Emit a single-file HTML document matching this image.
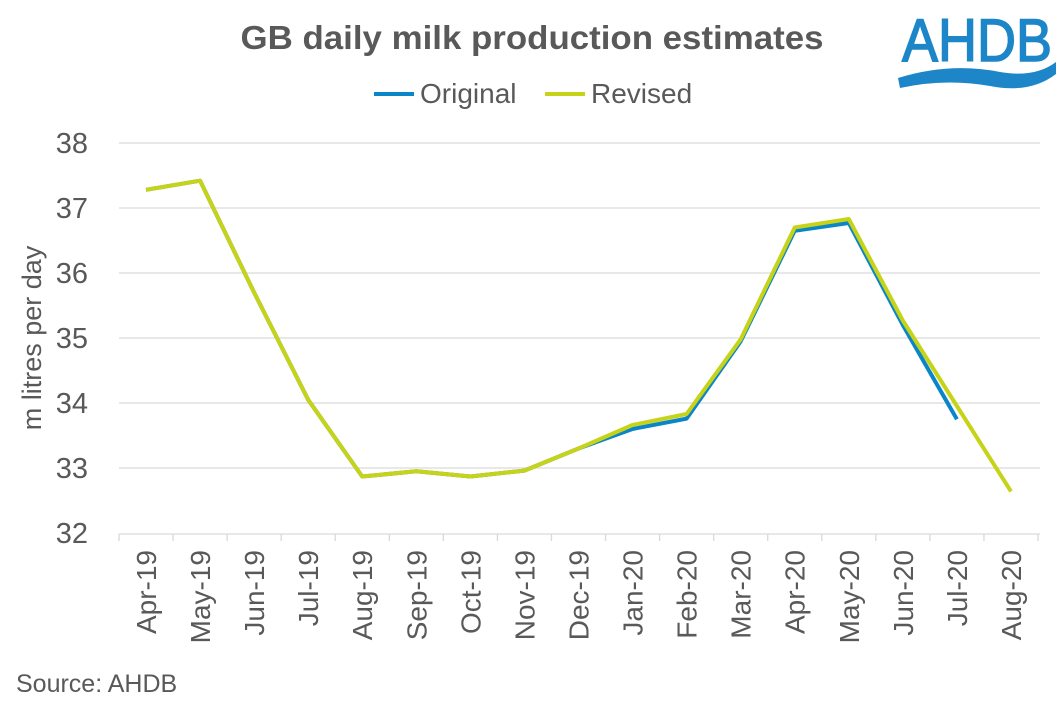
<!DOCTYPE html>
<html><head><meta charset="utf-8"><style>
body{margin:0;background:#fff;}
svg text{font-family:"Liberation Sans",Arial,sans-serif;}
</style></head><body>
<svg width="1063" height="709" xmlns="http://www.w3.org/2000/svg">
<rect width="1063" height="709" fill="#fff"/>
<text x="532" y="49" text-anchor="middle" font-size="33" font-weight="bold" fill="#595959" textLength="583" lengthAdjust="spacingAndGlyphs">GB daily milk production estimates</text>
<line x1="374" y1="94" x2="414" y2="94" stroke="#0a86c8" stroke-width="4"/>
<text x="420" y="103" font-size="28" fill="#595959">Original</text>
<line x1="545" y1="94" x2="585" y2="94" stroke="#c6d318" stroke-width="4"/>
<text x="591" y="103" font-size="28" fill="#595959">Revised</text>
<text x="977" y="61" text-anchor="middle" font-size="60" fill="#1d86c8" stroke="#1d86c8" stroke-width="1.5" textLength="150" lengthAdjust="spacingAndGlyphs">AHDB</text>
<path d="M898 78 Q950 62 1000 72 Q1035 78 1056 62 L1056 74 Q1030 94 990 86 Q945 78 900 88 Z" fill="#1d86c8"/>
<g stroke="#d9d9d9" stroke-width="1.3">
<line x1="119" y1="143" x2="1040" y2="143"/><line x1="119" y1="208" x2="1040" y2="208"/>
<line x1="119" y1="273" x2="1040" y2="273"/><line x1="119" y1="338" x2="1040" y2="338"/>
<line x1="119" y1="403" x2="1040" y2="403"/><line x1="119" y1="468" x2="1040" y2="468"/>
<line x1="119" y1="534" x2="1040" y2="534"/>
</g>
<g stroke="#d9d9d9" stroke-width="1.3" id="ticks"></g>
<g font-size="29" fill="#595959" text-anchor="end">
<text x="88" y="153">38</text><text x="88" y="218">37</text><text x="88" y="283">36</text>
<text x="88" y="348">35</text><text x="88" y="413">34</text><text x="88" y="478">33</text><text x="88" y="543">32</text>
</g>
<text transform="translate(41,338) rotate(-90)" text-anchor="middle" font-size="27" fill="#595959">m litres per day</text>
<g id="xl" font-size="28" fill="#595959" text-anchor="end"></g>
<text x="16" y="692" font-size="25" fill="#595959">Source: AHDB</text>
<polyline fill="none" stroke="#0a86c8" stroke-width="4" stroke-linejoin="round" points="146,189.8 200.1,180.7 254.1,292.5 308.2,399.8 362.2,476.5 416.3,471.3 470.4,476.5 524.4,470.6 578.5,448.5 632.5,429 686.6,418.6 740.7,341.3 794.7,230.8 848.8,223 902.8,325 956.9,419.3"/>
<polyline fill="none" stroke="#c6d318" stroke-width="4" stroke-linejoin="round" points="146,189.8 200.1,180.7 254.1,292.5 308.2,399.8 362.2,476.5 416.3,471.3 470.4,476.5 524.4,470.6 578.5,448.5 632.5,425 686.6,414 740.7,339.3 794.7,227.5 848.8,219 902.8,320.5 956.9,406 1011,491.4"/>
<script>
var labs=["Apr-19","May-19","Jun-19","Jul-19","Aug-19","Sep-19","Oct-19","Nov-19","Dec-19","Jan-20","Feb-20","Mar-20","Apr-20","May-20","Jun-20","Jul-20","Aug-20"];
var ns="http://www.w3.org/2000/svg",g=document.getElementById("xl"),t=document.getElementById("ticks");
for(var i=0;i<=17;i++){var x=119+54.06*i;var l=document.createElementNS(ns,"line");l.setAttribute("x1",x);l.setAttribute("x2",x);l.setAttribute("y1",534);l.setAttribute("y2",541);t.appendChild(l);}
labs.forEach(function(s,i){var x=146+54.06*i+10;var e=document.createElementNS(ns,"text");e.setAttribute("transform","translate("+x+",550) rotate(-90)");e.textContent=s;g.appendChild(e);});
</script>
</svg>
</body></html>
